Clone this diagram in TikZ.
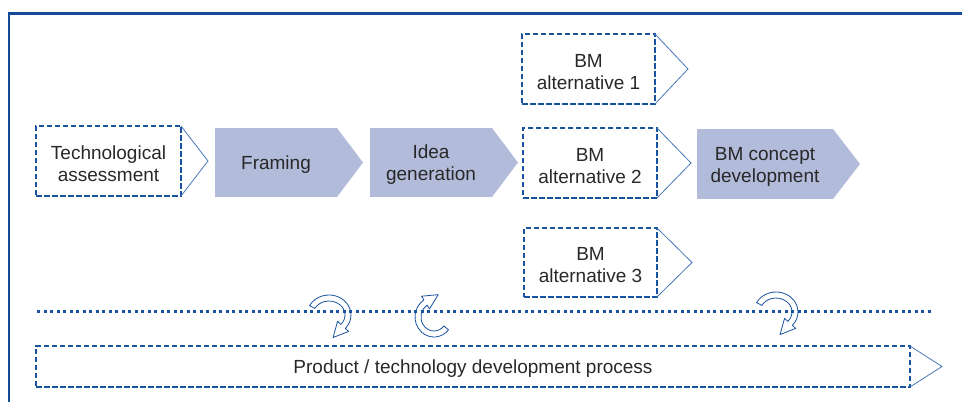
\documentclass[tikz,border=0pt]{standalone}
\usepackage{fontspec}
\setmainfont{Liberation Sans}
\usetikzlibrary{calc}
\definecolor{frameblue}{RGB}{20,75,150}
\definecolor{dashblue}{RGB}{25,82,158}
\definecolor{triblue}{RGB}{70,120,185}
\definecolor{procfill}{RGB}{179,187,219}
\definecolor{txt}{RGB}{40,40,40}
\newcommand{\dn}{\rule{0pt}{18.8pt}}
\tikzset{
  dashbox/.style={draw=dashblue, line width=1.8pt, dash pattern=on 5.5pt off 2.5pt,
    inner sep=0pt, outer sep=0pt, align=center, text=txt},
  tri/.style={draw=triblue, line width=0.8pt, line join=miter},
  procbox/.style={fill=procfill, inner sep=0pt, outer sep=0pt, align=center, text=txt,
    minimum height=69pt},
  proctip/.style={fill=procfill},
  harrow/.style={draw=dashblue, line width=0.8pt, line join=round},
  dotline/.style={draw=dashblue, line width=3pt, dash pattern=on 3pt off 3.5pt},
}
% hollow curved arrow: cx, cy, rx, ry, start, end, sign(+1 ccw, -1 cw), name
\newcommand{\hollowarrow}[8]{%
  \coordinate (#8) at (#1,#2);
  \draw[harrow] ($(#8)+(#5:{(#3+3)*1pt} and {(#4+3)*1pt})$)
    arc[start angle=#5, end angle=#6, x radius={(#3+3)*1pt}, y radius={(#4+3)*1pt}]
    -- ($(#8)+(#6:{(#3+7.5)*1pt} and {(#4+7.5)*1pt})$)
    -- ($(#8)+(#6:{#3*1pt} and {#4*1pt})+({#6+90*#7}:15pt)$)
    -- ($(#8)+(#6:{(#3-7.5)*1pt} and {(#4-7.5)*1pt})$)
    -- ($(#8)+(#6:{(#3-3)*1pt} and {(#4-3)*1pt})$)
    arc[start angle=#6, end angle=#5, x radius={(#3-3)*1pt}, y radius={(#4-3)*1pt}]
    -- cycle;}
\begin{document}
\begin{tikzpicture}[x=1pt,y=1pt,font=\fontsize{19}{22}\selectfont]
\useasboundingbox (0,0) rectangle (962,402);
% frame
\draw[frameblue, line width=2.5pt] (9,0) -- (9,388.5) -- (963,388.5);

% dashed boxes
\node[dashbox, minimum width=145pt, minimum height=70pt] (tech) at (108.5,241) {\dn Technological\\assessment};
\draw[tri] (tech.north east) -- ($(tech.east)+(27,0)$) -- (tech.south east);

\node[dashbox, minimum width=133pt, minimum height=70pt] (bm1) at (588.5,333) {\dn BM\\alternative 1};
\draw[tri] (bm1.north east) -- ($(bm1.east)+(33,0)$) -- (bm1.south east);

\node[dashbox, minimum width=134pt, minimum height=70pt] (bm2) at (590,239) {\dn BM\\alternative 2};
\draw[tri] (bm2.north east) -- ($(bm2.east)+(34,0)$) -- (bm2.south east);

\node[dashbox, minimum width=133pt, minimum height=69pt] (bm3) at (590.5,139.5) {\dn BM\\alternative 3};
\draw[tri] (bm3.north east) -- ($(bm3.east)+(35,0)$) -- (bm3.south east);

% process arrows
\node[procbox, minimum width=122pt] (fram) at (276,239.5) {\dn Framing};
\fill[proctip] (fram.north east) -- ($(fram.east)+(26,0)$) -- (fram.south east) -- cycle;

\node[procbox, minimum width=122pt] (idea) at (431,239.5) {\dn Idea\\generation};
\fill[proctip] (idea.north east) -- ($(idea.east)+(26,0)$) -- (idea.south east) -- cycle;

\node[procbox, minimum width=136pt, minimum height=70pt] (bmc) at (765,238) {\dn BM concept\\development};
\fill[proctip] (bmc.north east) -- ($(bmc.east)+(27,0)$) -- (bmc.south east) -- cycle;

% dotted line
\coordinate (dl) at (37,90.5);
\coordinate (dr) at (933,90.5);
\draw[dotline] (dl) -- (dr);

% product box
\node[dashbox, minimum width=874pt, minimum height=41pt] (prod) at (473,35.5) {\dn Product / technology development process};
\draw[tri] (prod.north east) -- ($(prod.east)+(32,0)$) -- (prod.south east);

% curved hollow arrows
\hollowarrow{329}{87}{19}{17}{152}{-42}{-1}{ca}
\hollowarrow{434}{85}{16}{17}{-40}{-238}{-1}{cb}
\hollowarrow{776}{90}{19}{17}{152}{-42}{-1}{cc}
\end{tikzpicture}
\end{document}
